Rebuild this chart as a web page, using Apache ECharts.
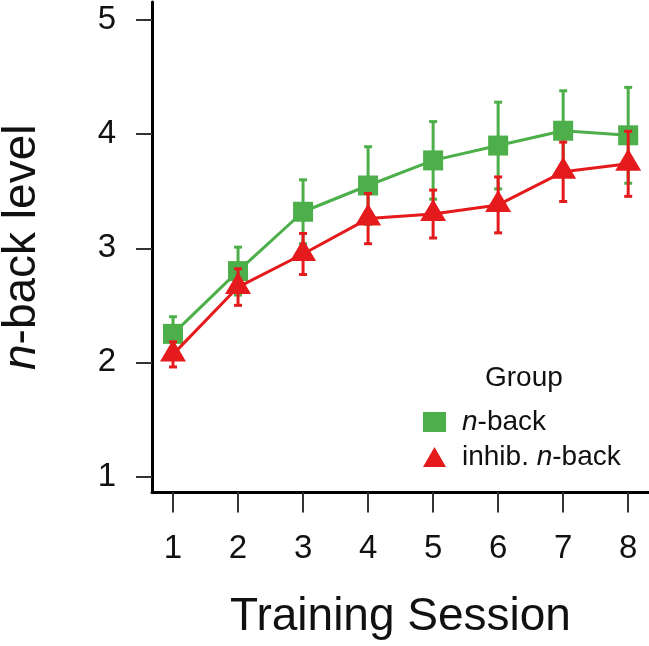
<!DOCTYPE html>
<html>
<head>
<meta charset="utf-8">
<script src="https://cdn.jsdelivr.net/npm/echarts@6/dist/echarts.min.js"></script>
<style>html,body{margin:0;padding:0;background:#fff}#c{width:649px;height:646px}</style>
</head>
<body>
<div id="c"></div>
<script>
const sessions = [1, 2, 3, 4, 5, 6, 7, 8];
const xTicks = [1, 2, 3, 4, 5, 6, 7, 8];
const yTicks = [1, 2, 3, 4, 5];
const nbackMean = [2.25, 2.80, 3.32, 3.55, 3.77, 3.90, 4.03, 3.99];
const nbackErr  = [0.15, 0.21, 0.28, 0.34, 0.34, 0.38, 0.35, 0.42];
const inhibMean = [2.07, 2.66, 2.95, 3.26, 3.30, 3.38, 3.67, 3.74];
const inhibErr  = [0.11, 0.16, 0.18, 0.22, 0.21, 0.245, 0.26, 0.285];

const GREEN = '#4DAF4A', RED = '#E41A1C';
const FONT = 'Liberation Sans, Arial, sans-serif';

function errRender(color) {
  return function (params, api) {
    const x = api.value(0), lo = api.value(1), hi = api.value(2);
    const a = api.coord([x, lo]), b = api.coord([x, hi]);
    const cw = 4;
    const st = { stroke: color, lineWidth: 3 };
    return { type: 'group', children: [
      { type: 'line', shape: { x1: a[0], y1: a[1], x2: b[0], y2: b[1] }, style: st },
      { type: 'line', shape: { x1: b[0] - cw, y1: b[1], x2: b[0] + cw, y2: b[1] }, style: st },
      { type: 'line', shape: { x1: a[0] - cw, y1: a[1], x2: a[0] + cw, y2: a[1] }, style: st }
    ]};
  };
}
const errData = (m, e) => sessions.map((s, i) => [s, m[i] - e[i], m[i] + e[i]]);
const ptData = (m) => sessions.map((s, i) => [s, m[i]]);

const chart = echarts.init(document.getElementById('c'));
chart.setOption({
  animation: false,
  grid: { left: 152, right: 0, top: 2, bottom: 153.5, containLabel: false, outerBoundsMode: 'none' },
  xAxis: {
    type: 'value', min: 0.677, max: 8.32,
    name: 'Training Session', nameLocation: 'middle', nameGap: 102,
    nameTextStyle: { fontSize: 46, fontFamily: FONT, color: '#111' },
    axisLine: { onZero: false, lineStyle: { color: '#000', width: 3 } },
    axisTick: { show: true, customValues: xTicks, length: 20, lineStyle: { color: '#333', width: 2 } },
    axisLabel: { customValues: xTicks, fontSize: 33, fontFamily: FONT, color: '#111', margin: 40 },
    splitLine: { show: false }
  },
  yAxis: {
    type: 'value', min: 0.86, max: 5.158,
    name: '{i|n}-back level', nameLocation: 'middle', nameGap: 107, nameRotate: 90,
    nameTextStyle: { fontSize: 46, fontFamily: FONT, color: '#111',
      rich: { i: { fontStyle: 'italic', fontSize: 46, fontFamily: FONT, color: '#111' } } },
    axisLine: { onZero: false, lineStyle: { color: '#000', width: 3 } },
    axisTick: { show: true, customValues: yTicks, length: 16, lineStyle: { color: '#333', width: 2 } },
    axisLabel: { customValues: yTicks, fontSize: 33, fontFamily: FONT, color: '#111', margin: 36 },
    splitLine: { show: false }
  },
  legend: {
    orient: 'vertical', left: 418, top: 403, itemWidth: 23, itemHeight: 20, itemGap: 7,
    data: [{ name: 'n-back', icon: 'rect' }, { name: 'inhib. n-back', icon: 'triangle' }],
    formatter: n => n === 'n-back' ? '{i|n}-back' : 'inhib. {i|n}-back',
    textStyle: { fontSize: 28, fontFamily: FONT, color: '#111', padding: [0, 0, 0, 11],
      rich: { i: { fontStyle: 'italic', fontSize: 28, fontFamily: FONT, color: '#111' } } }
  },
  graphic: [{
    type: 'text', left: 526 - 41, top: 364,
    style: { text: 'Group', fontSize: 28, fontFamily: FONT, fill: '#111' }
  }],
  series: [
    { type: 'custom', name: 'n-back-err', renderItem: errRender(GREEN), data: errData(nbackMean, nbackErr), z: 1, silent: true },
    { type: 'line', name: 'n-back', data: ptData(nbackMean), symbol: 'rect', symbolSize: 20,
      lineStyle: { color: GREEN, width: 3 }, itemStyle: { color: GREEN }, z: 2 },
    { type: 'custom', name: 'inhib-err', renderItem: errRender(RED), data: errData(inhibMean, inhibErr), z: 3, silent: true },
    { type: 'line', name: 'inhib. n-back', data: ptData(inhibMean), symbol: 'triangle', symbolSize: [26, 22],
      symbolOffset: [0, -4], lineStyle: { color: RED, width: 3 }, itemStyle: { color: RED }, z: 4 }
  ]
});
</script>
</body>
</html>
